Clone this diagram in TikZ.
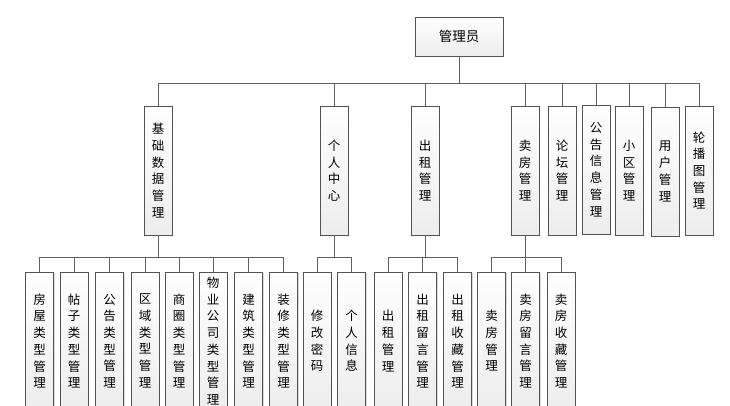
\documentclass[tikz,border=0pt]{standalone}
\usepackage{fontspec}
\newfontfamily\cjk{Noto Sans CJK SC}
\usetikzlibrary{positioning,shadows}

\tikzset{
  mbox/.style={draw=gray!65!black, line width=0.8pt, top color=white, bottom color=gray!14,
    inner sep=0pt, minimum width=28pt, align=center,
    font=\cjk\fontsize{12.5}{16.7}\selectfont,
    drop shadow={shadow xshift=1.2pt, shadow yshift=-1.2pt, fill=gray!30, opacity=1}},
  lvone/.style={mbox, minimum height=129pt},
  lvtwo/.style={mbox, minimum height=138pt},
  link/.style={draw=gray!75!black, line width=0.8pt},
}

\begin{document}
\begin{tikzpicture}[x=1pt,y=-1pt]
    \clip (0,0) rectangle (730,405);
    \fill[white] (0,0) rectangle (730,405);
    % root
    \node[mbox, minimum width=88pt, minimum height=39pt, font=\cjk\fontsize{13.5}{16}\selectfont] (admin) at (459,36.5) {管理员};
    % first level
    \node[lvone] (jc) at (158,170.5) {基\\础\\数\\据\\管\\理};
    \node[lvone] (gr) at (334,170.5) {个\\人\\中\\心};
    \node[lvone] (cz) at (425,170.5) {出\\租\\管\\理};
    \node[lvone] (mf) at (525,170.5) {卖\\房\\管\\理};
    \node[lvone] (lt) at (562,170.5) {论\\坛\\管\\理};
    \node[lvone] (gg) at (596,169.5) {公\\告\\信\\息\\管\\理};
    \node[lvone] (xq) at (629,170.5) {小\\区\\管\\理};
    \node[lvone] (yh) at (665,171.5) {用\\户\\管\\理};
    \node[lvone] (lb) at (699,170.5) {轮\\播\\图\\管\\理};
    % second level
    \node[lvtwo] (fwlx) at (39.5,341) {房\\屋\\类\\型\\管\\理};
    \node[lvtwo] (tzlx) at (74,341) {帖\\子\\类\\型\\管\\理};
    \node[lvtwo] (gglx) at (109.5,341) {公\\告\\类\\型\\管\\理};
    \node[lvtwo] (qylx) at (145,341) {区\\域\\类\\型\\管\\理};
    \node[lvtwo] (sqlx) at (179,341) {商\\圈\\类\\型\\管\\理};
    \node[lvtwo] (wylx) at (213,341) {物\\业\\公\\司\\类\\型\\管\\理};
    \node[lvtwo] (jzlx) at (248.5,341) {建\\筑\\类\\型\\管\\理};
    \node[lvtwo] (zxlx) at (283.5,341) {装\\修\\类\\型\\管\\理};
    \node[lvtwo] (xgmm) at (317,341) {修\\改\\密\\码};
    \node[lvtwo] (grxx) at (351.5,341) {个\\人\\信\\息};
    \node[lvtwo] (czgl) at (388,341) {出\\租\\管\\理};
    \node[lvtwo] (czly) at (422.5,341) {出\\租\\留\\言\\管\\理};
    \node[lvtwo] (czsc) at (457.5,341) {出\\租\\收\\藏\\管\\理};
    \node[lvtwo] (mfgl) at (491.5,341) {卖\\房\\管\\理};
    \node[lvtwo] (mfly) at (525.5,341) {卖\\房\\留\\言\\管\\理};
    \node[lvtwo] (mfsc) at (561,341) {卖\\房\\收\\藏\\管\\理};
    % buses
    \coordinate (adminbus) at (admin.south |- 0,83);
    \coordinate (jcbus) at (jc.south |- 0,257);
    \coordinate (grbus) at (gr.south |- 0,257);
    \coordinate (czbus) at (cz.south |- 0,257);
    \coordinate (mfbus) at (mf.south |- 0,257);
    \draw[link] (admin.south) -- (adminbus);
    \foreach \n in {jc,gr,cz,mf,lt,gg,xq,yh,lb}
        \draw[link] (\n.north) |- (adminbus);
    \draw[link] (jc.south) -- (jcbus);
    \foreach \n in {fwlx,tzlx,gglx,qylx,sqlx,wylx,jzlx,zxlx}
        \draw[link] (\n.north) |- (jcbus);
    \draw[link] (gr.south) -- (grbus);
    \foreach \n in {xgmm,grxx}
        \draw[link] (\n.north) |- (grbus);
    \draw[link] (cz.south) -- (czbus);
    \foreach \n in {czgl,czly,czsc}
        \draw[link] (\n.north) |- (czbus);
    \draw[link] (mf.south) -- (mfbus);
    \foreach \n in {mfgl,mfly,mfsc}
        \draw[link] (\n.north) |- (mfbus);
\end{tikzpicture}
\end{document}
